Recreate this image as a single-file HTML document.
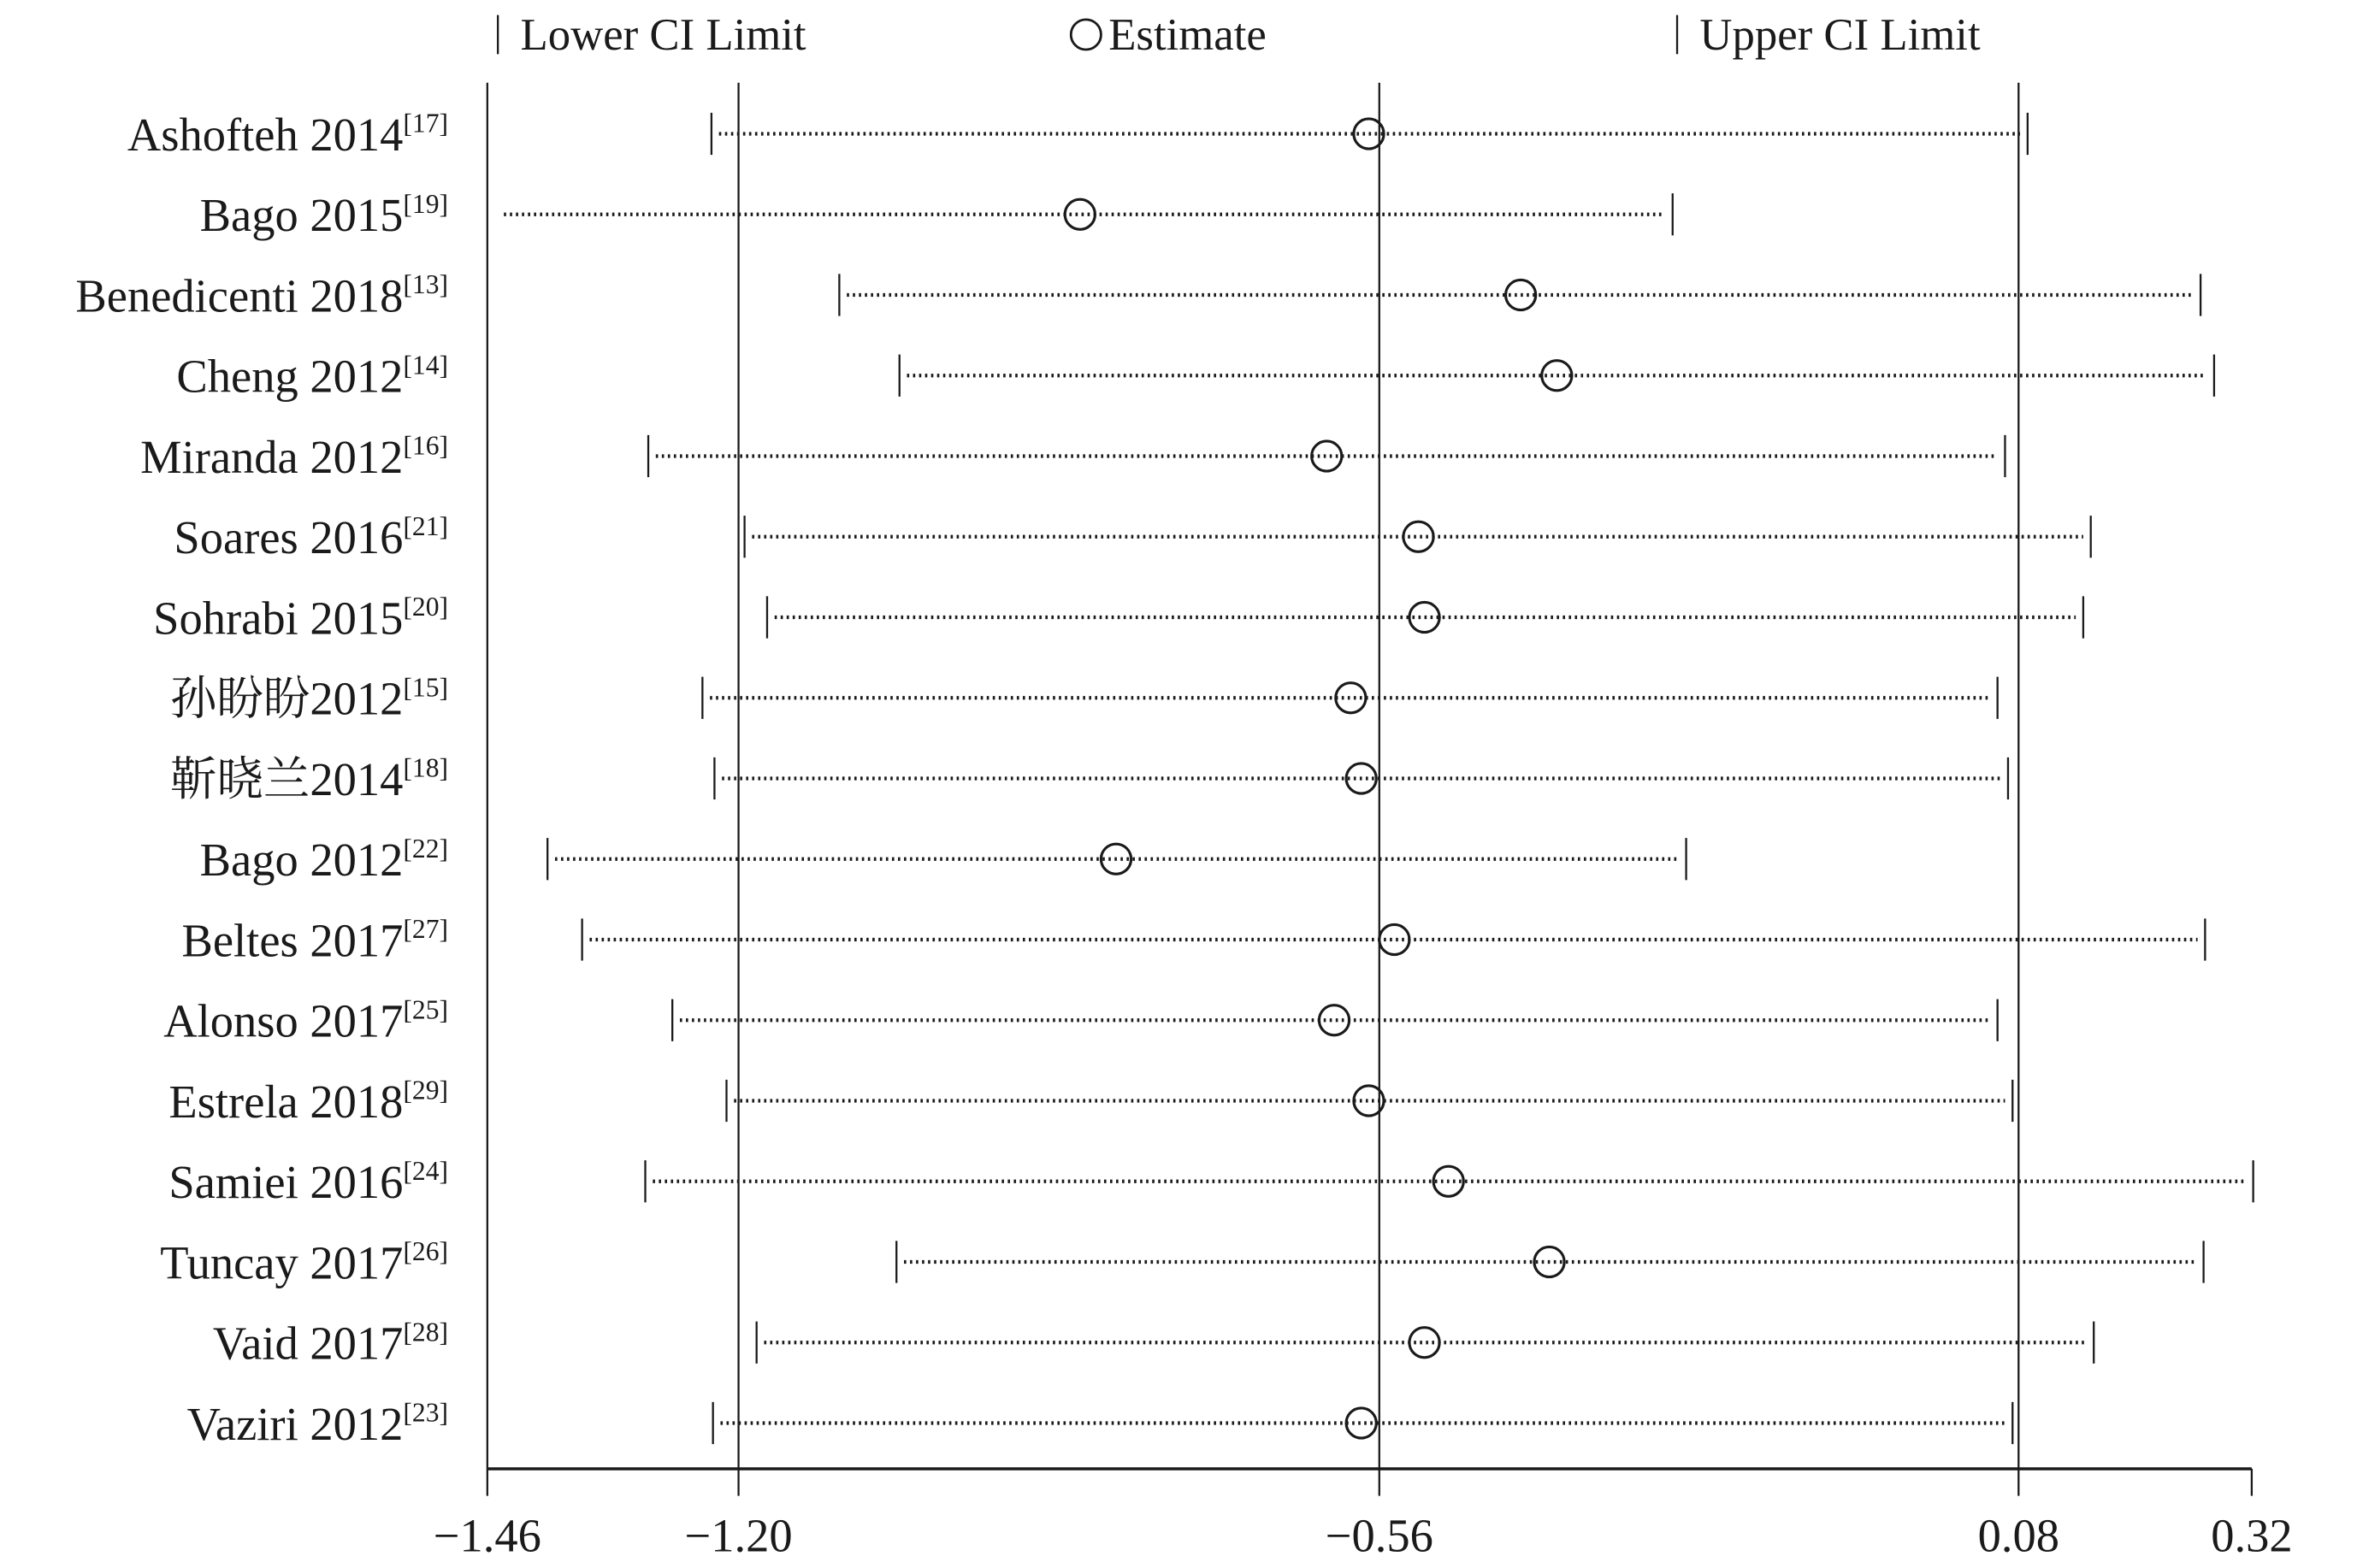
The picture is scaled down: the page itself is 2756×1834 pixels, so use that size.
<!DOCTYPE html>
<html><head><meta charset="utf-8"><style>
html,body{margin:0;padding:0;background:#fff}
svg{display:block}
text{font-family:"Liberation Serif","Noto Serif CJK SC",serif;fill:#1a1a1a}
</style></head><body>
<svg width="2756" height="1834" viewBox="0 0 1567 1043" preserveAspectRatio="none" xmlns="http://www.w3.org/2000/svg">
<g stroke="#1a1a1a" stroke-width="1.3" fill="none">
<line x1="331" y1="10" x2="331" y2="36"/>
<circle cx="722" cy="23" r="10" stroke-width="1.6"/>
<line x1="1115" y1="10" x2="1115" y2="36"/>
<line x1="324" y1="55" x2="324" y2="995"/>
<line x1="491" y1="55" x2="491" y2="995"/>
<line x1="917" y1="55" x2="917" y2="995"/>
<line x1="1342" y1="55" x2="1342" y2="995"/>
<line x1="1497" y1="977" x2="1497" y2="995"/>
<line x1="324" y1="977" x2="1497" y2="977" stroke-width="2"/>
</g>
<g font-size="30">
<text x="346" y="33">Lower CI Limit</text>
<text x="737" y="33">Estimate</text>
<text x="1130" y="33">Upper CI Limit</text>
</g>
<g font-size="31" text-anchor="middle">
<text x="324" y="1032">−1.46</text>
<text x="491" y="1032">−1.20</text>
<text x="917" y="1032">−0.56</text>
<text x="1342" y="1032">0.08</text>
<text x="1497" y="1032">0.32</text>
</g>
<g id="rows" stroke="#1a1a1a" fill="none" stroke-width="1.3"></g>
<g id="labels" font-size="31"></g>
<script>
var d=[["Ashofteh 2014","17",473,910,1348,1],["Bago 2015","19",330,718,1112,0],["Benedicenti 2018","13",558,1011,1463,1],["Cheng 2012","14",598,1035,1472,1],["Miranda 2012","16",431,882,1333,1],["Soares 2016","21",495,943,1390,1],["Sohrabi 2015","20",510,947,1385,1],["孙盼盼2012","15",467,898,1328,1],["靳晓兰2014","18",475,905,1335,1],["Bago 2012","22",364,742,1121,1],["Beltes 2017","27",387,927,1466,1],["Alonso 2017","25",447,887,1328,1],["Estrela 2018","29",483,910,1338,1],["Samiei 2016","24",429,963,1498,1],["Tuncay 2017","26",596,1030,1465,1],["Vaid 2017","28",503,947,1392,1],["Vaziri 2012","23",474,905,1338,1]];
var ns="http://www.w3.org/2000/svg",g=document.getElementById("rows"),L=document.getElementById("labels");
function el(t,a,p){var e=document.createElementNS(ns,t);for(var k in a)e.setAttribute(k,a[k]);p.appendChild(e);return e;}
d.forEach(function(r,i){var y=89+i*53.6;
el("line",{x1:r[2]+5,y1:y,x2:r[4]-5,y2:y,"stroke-dasharray":"1.5,2.5","stroke-width":"2.4"},g);
if(r[5])el("line",{x1:r[2],y1:y-14,x2:r[2],y2:y+14},g);
el("line",{x1:r[4],y1:y-14,x2:r[4],y2:y+14},g);
el("circle",{cx:r[3],cy:y,r:10,fill:"none","stroke-width":"1.8"},g);
var t=el("text",{x:298,y:y+11,"text-anchor":"end"},L);
t.appendChild(document.createTextNode(r[0]));
var s=document.createElementNS(ns,"tspan");s.setAttribute("font-size","18");s.setAttribute("dy","-12");s.textContent="["+r[1]+"]";t.appendChild(s);
});
</script>
</svg>
</body></html>
